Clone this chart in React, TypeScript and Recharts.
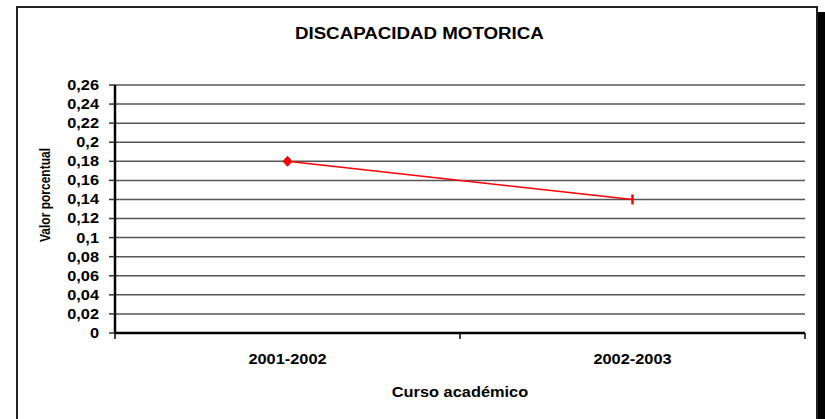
import { LineChart, Line, XAxis, YAxis, CartesianGrid, Label } from 'recharts';

const CURSOS = ['2001-2002', '2002-2003'];
const VALORES = [0.18, 0.14];
const Y_TICKS = [0, 0.02, 0.04, 0.06, 0.08, 0.1, 0.12, 0.14, 0.16, 0.18, 0.2, 0.22, 0.24, 0.26];

const data = CURSOS.map((curso, i) => ({ curso, valor: VALORES[i] }));

// the source picture is stretched sideways, so text gets a horizontal scale
const SX = 1.17;
const FONT = "'Liberation Sans', Arial, sans-serif";

const fmt = (v: number) => String(v).replace('.', ',');

const YTick = ({ x, y, payload }: any) => (
    <g transform={`translate(${x},${y}) scale(${SX},1)`}>
        <text x={0} y={0} dy="0.35em" textAnchor="end" fontFamily={FONT} fontWeight="bold" fontSize={14} fill="#000">
            {fmt(payload.value)}
        </text>
    </g>
);

const XTick = ({ x, y, payload, index, width, visibleTicksCount }: any) => {
    const band = width / visibleTicksCount;
    const axisY = y - 21;
    return (
        <g>
            <line x1={x - band / 2} x2={x - band / 2} y1={axisY} y2={axisY + 6} stroke="#000" strokeWidth={1.5} />
            {index === visibleTicksCount - 1 && (
                <line x1={x + band / 2} x2={x + band / 2} y1={axisY} y2={axisY + 6} stroke="#000" strokeWidth={1.5} />
            )}
            <g transform={`translate(${x},${y}) scale(${SX},1)`}>
                <text x={0} y={0} dy="0.71em" textAnchor="middle" fontFamily={FONT} fontWeight="bold" fontSize={14} fill="#000">
                    {payload.value}
                </text>
            </g>
        </g>
    );
};

const Dot = (props: any) => {
    const { cx, cy, index } = props;
    if (index === 0) {
        return <path key={`d-${index}`} d={`M${cx},${cy - 5}L${cx + 4.5},${cy}L${cx},${cy + 5}L${cx - 4.5},${cy}Z`} fill="#ff0000" stroke="#ff0000" />;
    }
    return <line key={`d-${index}`} x1={cx} x2={cx} y1={cy - 5} y2={cy + 5} stroke="#ff0000" strokeWidth={2.5} />;
};

export default function App() {
    return (
        <div style={{ position: 'absolute', left: 0, top: 0, width: 825, height: 419, overflow: 'hidden', background: '#fff' }}>
            {/* frame + shadow */}
            <div style={{ position: 'absolute', left: 16, top: 6, width: 802, height: 430, boxSizing: 'border-box', border: '2px solid #222' }} />
            <div style={{ position: 'absolute', left: 818, top: 12, width: 7, height: 420, background: '#000' }} />

            <div style={{ position: 'absolute', left: 0, top: 25.5, width: 838, textAlign: 'center', lineHeight: '16px' }}>
                <span style={{ display: 'inline-block', transform: `scaleX(${SX})`, fontFamily: FONT, fontWeight: 'bold', fontSize: 16, color: '#000' }}>
                    DISCAPACIDAD MOTORICA
                </span>
            </div>

            <div style={{ position: 'absolute', left: 0, top: 0 }}>
                <LineChart width={825} height={419} data={data} margin={{ top: 85, right: 20, bottom: 0, left: 0 }}>
                    <CartesianGrid vertical={false} stroke="#555" strokeWidth={1.5} />
                    <XAxis
                        dataKey="curso"
                        scale="band"
                        height={86}
                        tickSize={0}
                        tickMargin={21}
                        tickLine={false}
                        axisLine={{ stroke: '#000', strokeWidth: 2.5 }}
                        tick={<XTick />}
                        interval={0}
                    >
                        <Label
                            content={({ viewBox }: any) => (
                                <g transform={`translate(${viewBox.x + viewBox.width / 2},${397}) scale(${SX},1)`}>
                                    <text x={0} y={0} textAnchor="middle" fontFamily={FONT} fontWeight="bold" fontSize={14} fill="#000">
                                        Curso académico
                                    </text>
                                </g>
                            )}
                        />
                    </XAxis>
                    <XAxis xAxisId="top" dataKey="curso" orientation="top" height={0} tick={false} tickLine={false} axisLine={{ stroke: '#000', strokeWidth: 2.5 }} />
                    <YAxis
                        width={115}
                        domain={[0, 0.26]}
                        ticks={Y_TICKS}
                        interval={0}
                        tickSize={6}
                        tickMargin={10}
                        tickLine={{ stroke: '#333', strokeWidth: 1.5 }}
                        axisLine={{ stroke: '#000', strokeWidth: 2.5 }}
                        tick={<YTick />}
                    >
                        <Label
                            content={() => (
                                <g transform={`translate(50,195) scale(${SX},1) rotate(-90)`}>
                                    <text x={0} y={0} textAnchor="middle" fontFamily={FONT} fontWeight="bold" fontSize={12} fill="#000">
                                        Valor porcentual
                                    </text>
                                </g>
                            )}
                        />
                    </YAxis>
                    <YAxis yAxisId="right" orientation="right" width={0} domain={[0, 0.26]} tick={false} tickLine={false} axisLine={{ stroke: '#777', strokeWidth: 1 }} />
                    <Line
                        dataKey="valor"
                        stroke="#ff0000"
                        strokeWidth={1.5}
                        dot={Dot}
                        activeDot={false}
                        isAnimationActive={false}
                    />
                </LineChart>
            </div>
        </div>
    );
}
